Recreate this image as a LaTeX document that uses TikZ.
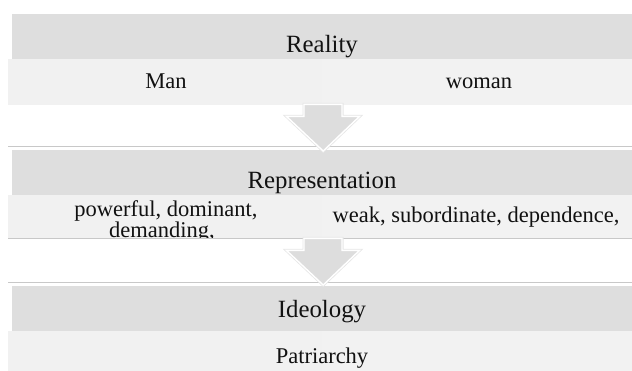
\documentclass[tikz,border=0pt]{standalone}
\usepackage{fontspec}
\setmainfont{Liberation Serif}
\newfontfamily\tnr{Liberation Serif}
\newcommand\tightls{\lineskiplimit=-50pt\relax}
\usetikzlibrary{calc}
\definecolor{bandD}{HTML}{DEDEDE}
\definecolor{bandL}{HTML}{F1F1F1}
\definecolor{bandLR}{HTML}{F2F2F2}
\definecolor{rulec}{HTML}{C8C8C8}
\definecolor{arrowc}{HTML}{DDDDDD}
\definecolor{arrowedge}{HTML}{E6E6E6}
\definecolor{txt}{HTML}{111111}
\begin{document}
\begin{tikzpicture}[x=1pt,y=-1pt,
  dband/.style={fill=bandD, draw=none, inner sep=0pt, minimum width=622pt, anchor=north west},
  lbandL/.style={fill=bandL, draw=none, inner sep=0pt, minimum width=314pt, anchor=north west},
  lbandR/.style={fill=bandLR, draw=none, inner sep=0pt, minimum width=314pt, anchor=north west},
  headtxt/.style={font=\tnr\fontsize{24.8}{26}\selectfont, text=txt, anchor=base, inner sep=0pt},
  bodytxt/.style={font=\tnr\fontsize{22.5}{24}\selectfont, text=txt, anchor=base, inner sep=0pt},
  rulel/.style={draw=rulec, line width=1pt},
  blockarrow/.style={fill=arrowc, draw=white, line width=1.4pt, line join=miter,
    preaction={draw=arrowedge, line width=3pt}}
]
\useasboundingbox (0,0) rectangle (632,370);
\clip (0,0) rectangle (632,370);

% Block 1
\node[dband, minimum height=45pt] (d1) at (12,14) {};
\node[lbandL, minimum height=46pt] (l1a) at (8,59) {};
\node[lbandR, minimum height=46pt] (l1b) at (322,59) {};
% Block 2
\node[dband, minimum height=45pt] (d2) at (12,150) {};
\node[lbandL, minimum height=43pt] (l2a) at (8,195) {};
\node[lbandR, minimum height=43pt] (l2b) at (322,195) {};
% Block 3
\node[dband, minimum height=45pt] (d3) at (12,286) {};
\node[lbandL, minimum height=40pt] (l3a) at (8,331) {};
\node[lbandR, minimum height=40pt] (l3b) at (322,331) {};

% texts
\node[headtxt] (reality) at (322,52) {Reality};
\node[bodytxt] (man) at (166,88) {Man};
\node[bodytxt] (woman) at (479,88) {woman};
\node[headtxt] (repr) at (322,188) {Representation};
\begin{scope}
  \clip (l2a.north west) rectangle (l2a.south east);
  \node[font=\tnr\fontsize{22.5}{20.5}\selectfont\tightls, text=txt, inner sep=0pt, align=center, anchor=base]
    (pow) at (166,237) {powerful, dominant,\\demanding,\hspace*{8pt}};
\end{scope}
\node[bodytxt] (weak) at (476,222) {weak, subordinate, dependence,};
\node[headtxt] (ideo) at (322,317) {Ideology};
\node[bodytxt] (patr) at (322,363) {Patriarchy};

% rules
\draw[rulel] ($(d2.north west)+(-4,-4)$) coordinate (r1a) -- ($(d2.north east)+(10,-4)$) coordinate (r1b);
\draw[rulel] (l2a.south west) -- ($(l2b.south east)$);
\draw[rulel] ($(d3.north west)+(-4,-4)$) coordinate (r2a) -- ($(d3.north east)+(10,-4)$) coordinate (r2b);

% block arrows
\coordinate (a1) at ($(l1b.south west)+(1,-1)$);
\coordinate (t1) at ($(d2.north)+(0,1)$);
\draw[blockarrow] ($(a1)+(-19,0)$) -- ($(a1)+(19,0)$) -- ($(a1)+(19,12)$) -- ($(a1)+(36.5,12)$)
  -- (t1) -- ($(a1)+(-36.5,12)$) -- ($(a1)+(-19,12)$) -- cycle;
\coordinate (a2) at ($(l2b.south west)+(1,0)$);
\coordinate (t2) at ($(d3.north)+(0,-1)$);
\draw[blockarrow] ($(a2)+(-19,0)$) -- ($(a2)+(19,0)$) -- ($(a2)+(19,12)$) -- ($(a2)+(36.5,12)$)
  -- (t2) -- ($(a2)+(-36.5,12)$) -- ($(a2)+(-19,12)$) -- cycle;
\end{tikzpicture}
\end{document}
